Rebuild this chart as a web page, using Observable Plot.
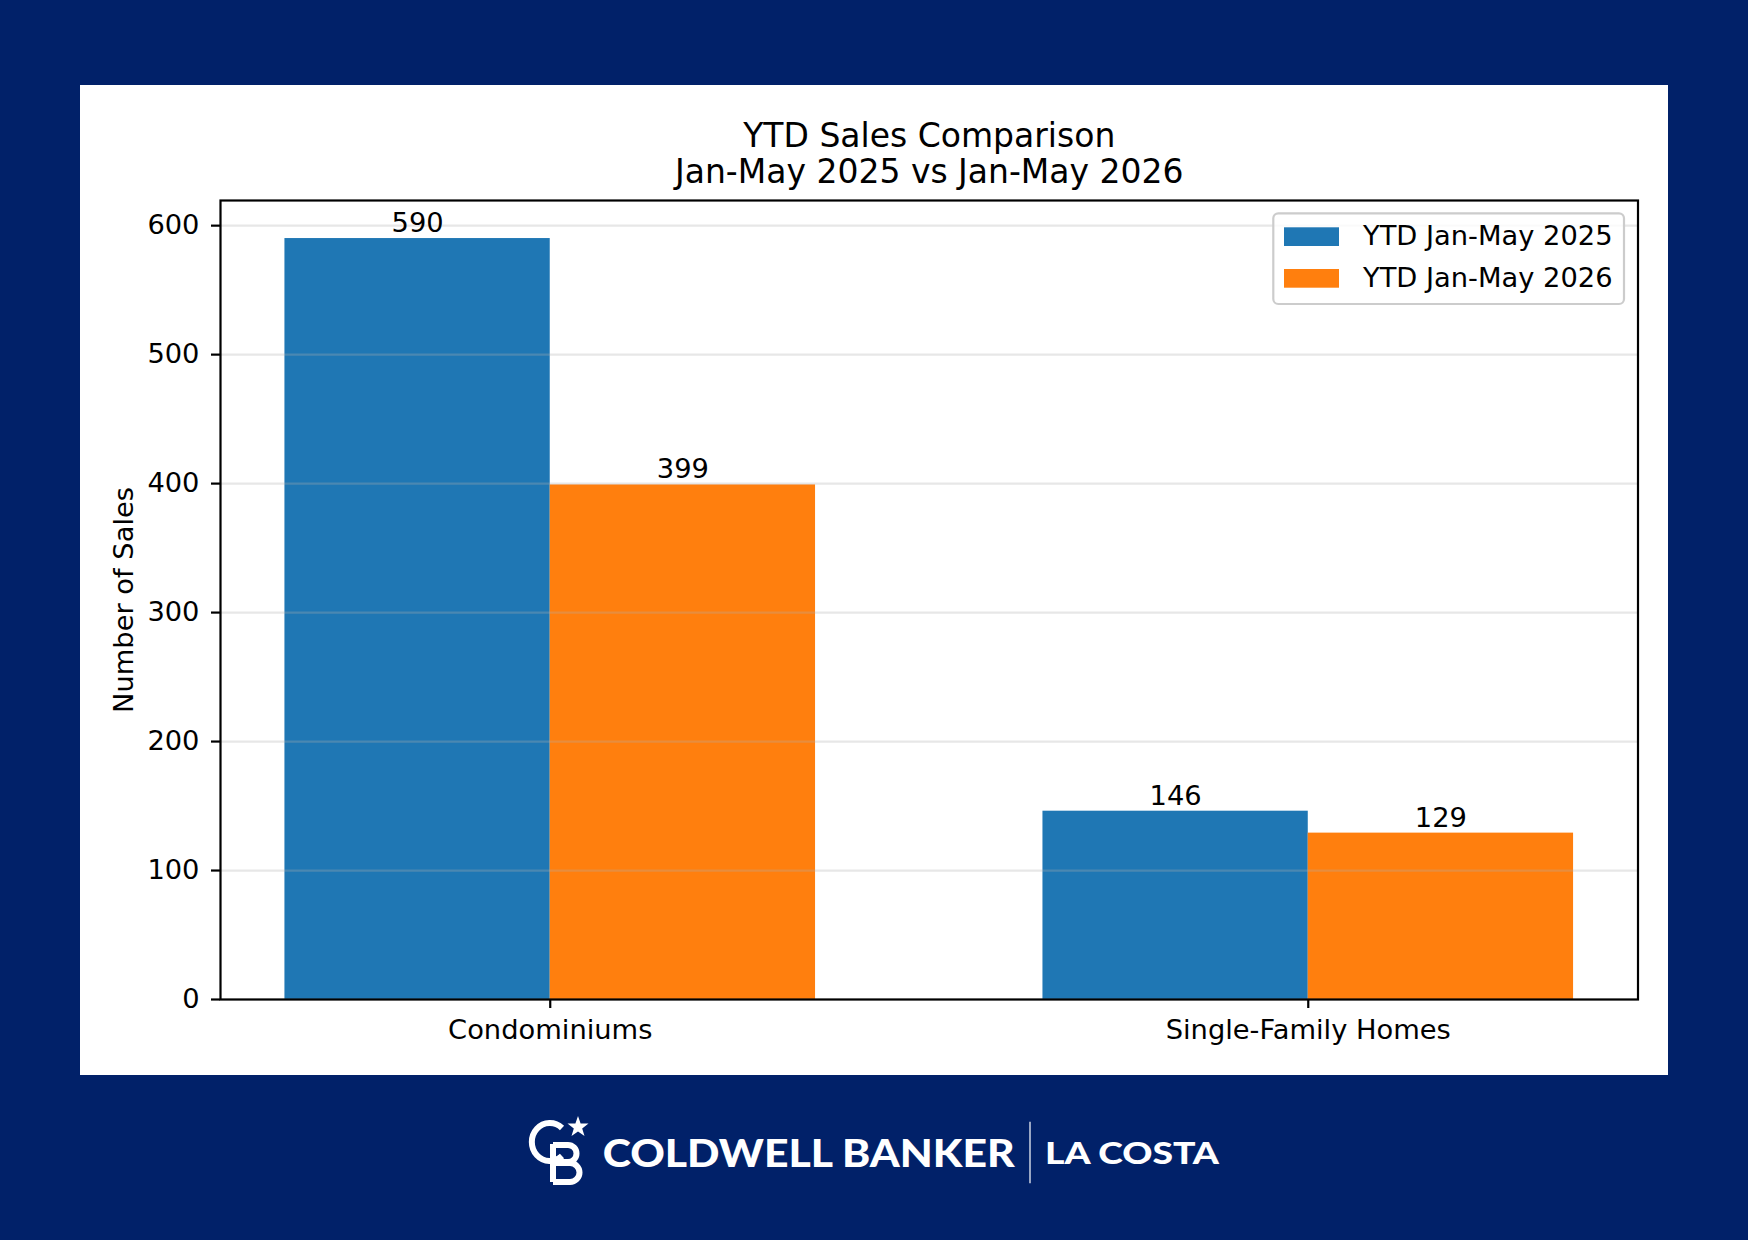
<!DOCTYPE html>
<html>
<head>
<meta charset="utf-8">
<script src="https://cdn.jsdelivr.net/npm/d3@7"></script>
<script src="https://cdn.jsdelivr.net/npm/@observablehq/plot@0.6"></script>
<style>
  html, body { margin: 0; padding: 0; }
  body { width: 1748px; height: 1240px; background: #012169; position: relative; overflow: hidden; }
  #panel { position: absolute; left: 80px; top: 85px; width: 1588px; height: 990px; background: #fff; }
  #footer { position: absolute; left: 0; top: 1100px; }
  #footer text { font-family: Lato, "Open Sans", sans-serif; fill: #fff; }
</style>
</head>
<body>
<div id="panel"></div>
<svg id="footer" width="1748" height="110" viewBox="0 0 1748 110">
  <!-- brand mark: interlaced C and B with a star -->
  <g fill="none" stroke="#fff" stroke-width="6" stroke-linecap="butt">
    <path d="M562,28 A18,19 0 1 0 562,56"></path>
    <path d="M553,44 V82 M553,45 H568 A8.5,8.5 0 0 1 568,62 H553 M553,63 H570 A9.5,9.5 0 0 1 570,82 H553"></path>
  </g>
  <path fill="#fff" d="M578,16 L580.6,23.4 L588.5,23.6 L582.2,28.4 L584.5,36 L578,31.5 L571.5,36 L573.8,28.4 L567.5,23.6 L575.4,23.4 Z"></path>
  <text x="602.7" y="66.7" font-size="38.6" font-weight="900" textLength="412" lengthAdjust="spacingAndGlyphs">COLDWELL BANKER</text>
  <line x1="1030" x2="1030" y1="21.7" y2="83.3" stroke="rgba(255,255,255,0.8)" stroke-width="1.5"></line>
  <text x="1045" y="64" font-size="31" font-weight="900" textLength="174" lengthAdjust="spacingAndGlyphs">LA COSTA</text>
</svg>
<script>
// Year-to-date sales, Jan–May, by property type
const categories = ["Condominiums", "Single-Family Homes"];
const seriesNames = ["YTD Jan-May 2025", "YTD Jan-May 2026"];
const sales2025 = [590, 146];
const sales2026 = [399, 129];
const yTicks = [0, 100, 200, 300, 400, 500, 600];
const titleLines = ["YTD Sales Comparison", "Jan-May 2025 vs Jan-May 2026"];
const yLabel = "Number of Sales";

const seriesValues = [sales2025, sales2026];
const rows = categories.flatMap((c, g) =>
  seriesNames.map((s, k) => ({category: c, group: g, series: s, slot: k, value: seriesValues[k][g]}))
);

// grouped bars: each bar is 0.35 wide, two bars side by side around the group index
const barWidth = 0.35;
const fontFamily = "'DejaVu Sans', 'Noto Sans', sans-serif";

const plot = Plot.plot({
  width: 1588,
  height: 990,
  marginLeft: 140,
  marginRight: 30.5,
  marginTop: 115,
  marginBottom: 76,
  style: {fontFamily, fontSize: "27.3px", color: "#000", background: "#fff", overflow: "visible"},
  x: {domain: [-0.435, 1.435]},
  y: {domain: [0, 619.5]},
  color: {domain: seriesNames, range: ["#1f77b4", "#ff7f0e"]},
  marks: [
    Plot.rectY(rows, {
      x1: d => d.group + (d.slot - 1) * barWidth,
      x2: d => d.group + d.slot * barWidth,
      y: "value",
      fill: "series"
    }),
    Plot.gridY(yTicks, {stroke: "#b0b0b0", strokeOpacity: 0.3, strokeWidth: 2.2}),
    Plot.text(rows, {
      x: d => d.group + (d.slot - 0.5) * barWidth,
      y: "value",
      text: d => String(d.value),
      lineAnchor: "bottom",
      dy: -6.4,
      fontSize: 27.3,
      fill: "#000"
    }),
    Plot.axisY({ticks: yTicks, tickSize: 9, tickPadding: 12, strokeWidth: 2.2, fontSize: 27.3, label: null}),
    Plot.axisX({ticks: [0, 1], tickFormat: i => categories[i], tickSize: 9, tickPadding: 11, strokeWidth: 2.2, fontSize: 27.3, label: null}),
    Plot.frame({stroke: "#000", strokeWidth: 2.2}),
    Plot.text([yLabel], {text: d => d, frameAnchor: "left", dx: -88, rotate: -90, lineAnchor: "bottom", textAnchor: "middle", fontSize: 27.3, fill: "#000"}),
    Plot.text([titleLines[0]], {text: d => d, frameAnchor: "top", dy: -53.3, lineAnchor: "bottom", fontSize: 33, fill: "#000"}),
    Plot.text([titleLines[1]], {text: d => d, frameAnchor: "top", dy: -17.3, lineAnchor: "bottom", fontSize: 33, fill: "#000"})
  ]
});

// legend box in the upper-right corner of the axes
const colorScale = plot.scale("color");
const svg = d3.select(plot);
const lg = svg.append("g")
  .attr("font-family", fontFamily)
  .attr("font-size", 27.3)
  .attr("text-anchor", "start");
lg.append("rect")
  .attr("x", 1193.3).attr("y", 128.3)
  .attr("width", 350.7).attr("height", 90.7)
  .attr("rx", 5)
  .attr("fill", "#fff").attr("fill-opacity", 0.8)
  .attr("stroke", "#cccccc").attr("stroke-width", 2.2);
seriesNames.forEach((s, k) => {
  lg.append("rect")
    .attr("x", 1204).attr("y", 142.3 + k * 41.7)
    .attr("width", 55).attr("height", 18.7)
    .attr("fill", colorScale.range[k]);
  lg.append("text")
    .attr("x", 1283).attr("y", 160 + k * 41.7)
    .attr("text-anchor", "start")
    .attr("fill", "#000")
    .text(s);
});

document.getElementById("panel").appendChild(plot);
</script>
</body>
</html>
